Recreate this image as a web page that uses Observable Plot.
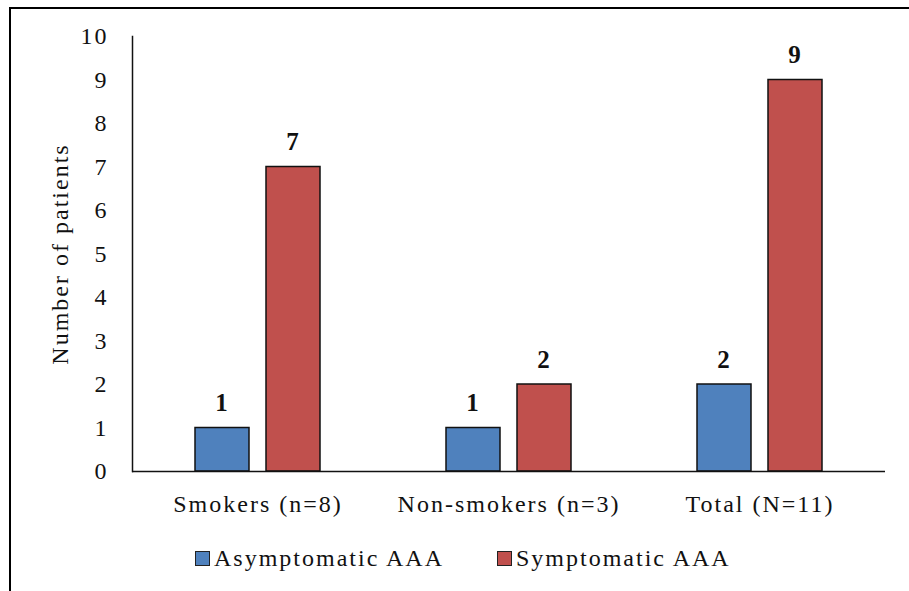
<!DOCTYPE html>
<html>
<head>
<meta charset="utf-8">
<script src="https://cdn.jsdelivr.net/npm/d3@7"></script>
<script src="https://cdn.jsdelivr.net/npm/@observablehq/plot@0.6"></script>
<style>
  html, body { margin: 0; padding: 0; background: #fff; }
  #wrap { position: relative; width: 909px; height: 591px; overflow: hidden; background: #fff; }
  #box { position: absolute; left: 9px; top: 7px; right: -10px; bottom: -10px;
         border-top: 2px solid #000; border-left: 2px solid #000; }
  #chart { position: absolute; left: 0; top: 0; }
  .key { position: absolute; top: 546px; font-family: 'Liberation Serif', serif; font-size: 24px;
         line-height: 24px; letter-spacing: 2px; color: #111; white-space: nowrap; }
  .key .sw { display: inline-block; width: 13px; height: 13px; border: 1px solid #222;
             margin-right: 4px; vertical-align: baseline; }
</style>
</head>
<body>
<div id="wrap">
  <div id="box"></div>
  <div id="chart"></div>
</div>
<script>
// Patients with abdominal aortic aneurysm by smoking status
const categories = ["Smokers (n=8)", "Non-smokers (n=3)", "Total (N=11)"];
const series = ["Asymptomatic AAA", "Symptomatic AAA"];
const asymptomatic = [1, 1, 2];
const symptomatic = [7, 2, 9];
const colors = ["#4F81BD", "#C0504D"];
const yTicks = [0, 1, 2, 3, 4, 5, 6, 7, 8, 9, 10];

const data = categories.flatMap((c, i) => [
  {category: c, series: series[0], value: asymptomatic[i]},
  {category: c, series: series[1], value: symptomatic[i]}
]);

const chart = Plot.plot({
  width: 909,
  height: 535,
  marginLeft: 131,
  marginRight: 23,
  marginTop: 36,
  marginBottom: 64,
  style: {fontFamily: "'Liberation Serif', serif", fontSize: "24px", color: "#111",
          background: "transparent", letterSpacing: "2px"},
  fx: {domain: categories, padding: 0, label: null},
  x: {domain: series, paddingInner: 0.245, paddingOuter: 0.88, axis: null},
  y: {domain: [0, 10], ticks: yTicks},
  color: {domain: series, range: colors},
  marks: [
    Plot.axisFx({anchor: "bottom", tickSize: 0, tickPadding: 23, label: null}),
    Plot.axisY({ticks: yTicks, tickSize: 0, tickPadding: 24, label: "Number of patients",
                labelAnchor: "center", labelArrow: "none", labelOffset: 82}),
    Plot.barY(data, {fx: "category", x: "series", y: "value", fill: "series",
                     stroke: "#111", strokeWidth: 1.5}),
    Plot.ruleY([0], {stroke: "#111", strokeWidth: 1.5}),
    Plot.frame({anchor: "left", facetAnchor: "left", stroke: "#111", strokeWidth: 1.5}),
    Plot.text(data, {fx: "category", x: "series", y: "value", text: d => String(d.value),
                     dy: -25, fontWeight: "bold", fontSize: 25, fill: "#111"})
  ]
});
document.getElementById("chart").appendChild(chart);

// Legend below the plot
const keyLeft = [195, 497];
series.forEach((s, i) => {
  const item = document.createElement("div");
  item.className = "key";
  item.style.left = keyLeft[i] + "px";
  const sw = document.createElement("span");
  sw.className = "sw";
  sw.style.background = colors[i];
  item.appendChild(sw);
  item.appendChild(document.createTextNode(s));
  document.getElementById("wrap").appendChild(item);
});
</script>
</body>
</html>
